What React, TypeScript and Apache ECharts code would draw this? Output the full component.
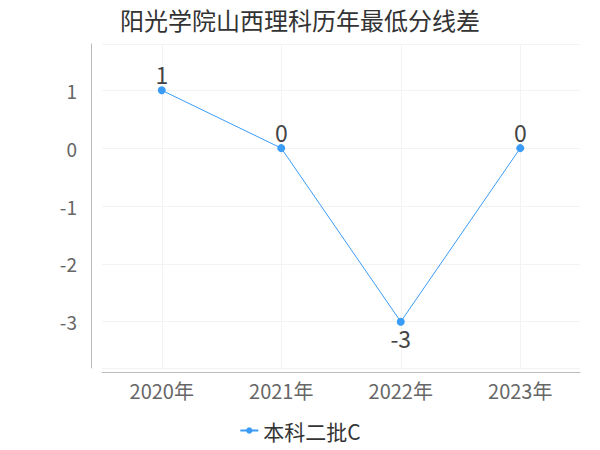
import React, { useEffect, useRef } from "react";
import * as echarts from "echarts";

const title = "阳光学院山西理科历年最低分线差";
const categories = ["2020年", "2021年", "2022年", "2023年"];
const seriesName = "本科二批C";
const values = [1, 0, -3, 0];
const labelPositions = ["top", "top", "bottom", "top"];

export default function App() {
  const ref = useRef<HTMLDivElement>(null);
  useEffect(() => {
    document.body.style.margin = "0";
    if (!ref.current) return;
    const chart = echarts.init(ref.current, null, { renderer: "svg" });
    const font = "'Noto Sans CJK SC', 'Noto Sans', sans-serif";
    chart.setOption({
      animation: false,
      textStyle: { fontFamily: font },
      title: {
        text: title,
        left: "center",
        top: 2,
        textStyle: { fontSize: 24, fontWeight: "normal", color: "#333", fontFamily: font },
      },
      legend: {
        bottom: 4,
        left: "center",
        itemWidth: 18,
        itemHeight: 8,
        itemGap: 4,
        textStyle: { fontSize: 21, color: "#333", fontFamily: font },
        data: [seriesName],
      },
      grid: { left: 102, right: 20, top: 44, bottom: 82 },
      xAxis: {
        type: "category",
        data: categories,
        boundaryGap: true,
        offset: 4,
        axisLine: { onZero: false, lineStyle: { color: "#bbb" } },
        axisTick: { alignWithLabel: true, lineStyle: { color: "#bbb" } },
        axisLabel: { fontSize: 20, color: "#666", margin: 8, fontFamily: font },
        splitLine: { show: true, alignWithLabel: true, lineStyle: { color: "#f3f3f3" } },
      },
      yAxis: {
        type: "value",
        min: -3.8,
        max: 1.8,
        offset: 11,
        axisLine: { show: true, lineStyle: { color: "#bbb" } },
        axisTick: { show: false },
        axisLabel: {
          fontSize: 19,
          color: "#666",
          margin: 14,
          showMinLabel: false,
          showMaxLabel: false,
          fontFamily: font,
        },
        splitLine: { show: true, lineStyle: { color: "#f3f3f3" } },
      },
      series: [
        {
          name: seriesName,
          type: "line",
          data: values.map((v, i) => ({
            value: v,
            label: { position: labelPositions[i] },
          })),
          symbol: "circle",
          symbolSize: 8,
          itemStyle: { color: "#3a9cf7" },
          lineStyle: { width: 1, color: "#3a9cf7" },
          label: { show: true, fontSize: 23, color: "#444", distance: 1, fontFamily: font },
        },
      ],
    });
    return () => chart.dispose();
  }, []);
  return <div ref={ref} style={{ width: 600, height: 450 }} />;
}
